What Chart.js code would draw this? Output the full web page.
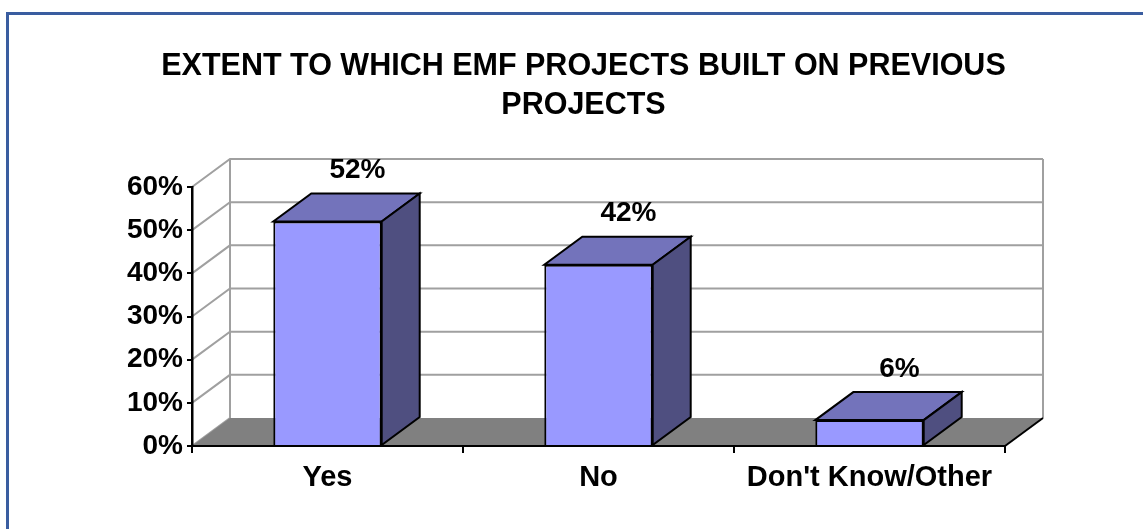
<!DOCTYPE html>
<html>
<head>
<meta charset="utf-8">
<script src="https://cdn.jsdelivr.net/npm/chart.js@4"></script>
<style>
    body { margin: 0; background: #fff; overflow: hidden; }
    #frame {
        position: absolute; left: 6px; top: 12px;
        width: 1200px; height: 600px;
        border: 3px solid #3A5DA0;
    }
    #wrap { position: absolute; left: 0; top: 0; width: 1143px; height: 529px; }
</style>
</head>
<body>
<div id="frame"></div>
<div id="wrap"><canvas id="chart" width="1143" height="529"></canvas></div>
<script>
const titleLines = ['EXTENT TO WHICH EMF PROJECTS BUILT ON PREVIOUS', 'PROJECTS'];
const categories = ['Yes', 'No', "Don't Know/Other"];
const shares = [0.52, 0.42, 0.06];
const yTicks = [0, 0.1, 0.2, 0.3, 0.4, 0.5, 0.6];

// depth of the 3D box (back wall offset)
const DEPTH_X = 38;
const DEPTH_Y = -28;

Chart.defaults.font.family = '"Liberation Sans", Arial, sans-serif';
Chart.defaults.color = '#000';

function pct(v) {
    return Math.round(v * 100) + '%';
}

function poly(ctx, pts, fill, stroke, lw) {
    ctx.beginPath();
    ctx.moveTo(pts[0][0], pts[0][1]);
    for (let i = 1; i < pts.length; i++) ctx.lineTo(pts[i][0], pts[i][1]);
    ctx.closePath();
    if (fill) { ctx.fillStyle = fill; ctx.fill(); }
    if (stroke) { ctx.strokeStyle = stroke; ctx.lineWidth = lw; ctx.lineJoin = 'miter'; ctx.stroke(); }
}

const box3d = {
    id: 'box3d',
    beforeDraw(chart) {
        const ctx = chart.ctx;
        const area = chart.chartArea;
        const y = chart.scales.y;
        const y0 = y.getPixelForValue(0);
        const yTop = y.getPixelForValue(yTicks[yTicks.length - 1]);
        ctx.save();
        ctx.lineCap = 'butt';

        // back wall and side wall grid
        ctx.strokeStyle = '#a0a0a0';
        ctx.lineWidth = 2;
        yTicks.forEach(t => {
            const py = y.getPixelForValue(t);
            ctx.beginPath();
            ctx.moveTo(area.left, py);
            ctx.lineTo(area.left + DEPTH_X, py + DEPTH_Y);
            if (t > 0) ctx.lineTo(area.right + DEPTH_X, py + DEPTH_Y);
            ctx.stroke();
        });
        ctx.beginPath();
        ctx.moveTo(area.left + DEPTH_X, yTop + DEPTH_Y);
        ctx.lineTo(area.left + DEPTH_X, y0 + DEPTH_Y);
        ctx.moveTo(area.right + DEPTH_X, yTop + DEPTH_Y);
        ctx.lineTo(area.right + DEPTH_X, y0 + DEPTH_Y);
        ctx.stroke();

        // floor
        poly(ctx, [
            [area.left, y0], [area.right, y0],
            [area.right + DEPTH_X, y0 + DEPTH_Y], [area.left + DEPTH_X, y0 + DEPTH_Y]
        ], '#808080', null, 0);
        ctx.strokeStyle = '#000';
        ctx.lineWidth = 2;
        ctx.beginPath();
        ctx.moveTo(area.right, y0);
        ctx.lineTo(area.right + DEPTH_X, y0 + DEPTH_Y);
        ctx.stroke();
        ctx.restore();
    },
    afterDatasetsDraw(chart) {
        const ctx = chart.ctx;
        const meta = chart.getDatasetMeta(0);
        ctx.save();
        meta.data.forEach((bar, i) => {
            const x1 = bar.x - bar.width / 2;
            const x2 = bar.x + bar.width / 2;
            const yt = bar.y;
            const yb = bar.base;
            // top face
            poly(ctx, [[x1, yt], [x2, yt], [x2 + DEPTH_X, yt + DEPTH_Y], [x1 + DEPTH_X, yt + DEPTH_Y]],
                '#7373BB', '#000', 2);
            // side face
            poly(ctx, [[x2, yt], [x2, yb], [x2 + DEPTH_X, yb + DEPTH_Y], [x2 + DEPTH_X, yt + DEPTH_Y]],
                '#4F4F80', '#000', 2);
            // value label
            ctx.fillStyle = '#000';
            ctx.font = 'bold 28px "Liberation Sans", Arial, sans-serif';
            ctx.textAlign = 'center';
            ctx.textBaseline = 'middle';
            ctx.fillText(pct(shares[i]), bar.x + 30, yt + DEPTH_Y - 23);
        });
        ctx.restore();
    }
};

new Chart(document.getElementById('chart'), {
    type: 'bar',
    data: {
        labels: categories,
        datasets: [{
            data: shares,
            backgroundColor: '#9999FF',
            borderColor: '#000',
            borderWidth: 2,
            barPercentage: 0.4,
            categoryPercentage: 1
        }]
    },
    options: {
        responsive: false,
        devicePixelRatio: 1,
        animation: false,
        layout: { padding: { left: 24, right: 0, top: 0, bottom: 0 } },
        plugins: {
            legend: { display: false },
            tooltip: { enabled: false },
            title: {
                display: true,
                text: titleLines,
                color: '#000',
                font: { size: 30.5, weight: 'bold', lineHeight: 1.25 },
                padding: { top: 48, bottom: 62.75 }
            }
        },
        scales: {
            x: {
                offset: true,
                grid: { display: true, drawOnChartArea: false, offset: true, tickLength: 7, color: '#000', lineWidth: 2 },
                border: { display: true, color: '#000', width: 2 },
                ticks: { font: { size: 29, weight: 'bold' }, padding: 8 },
                afterFit(scale) { scale.height = 83; }
            },
            y: {
                min: 0,
                max: 0.6,
                grid: { display: true, drawOnChartArea: false, tickLength: 5, color: '#000', lineWidth: 2 },
                border: { display: true, color: '#000', width: 2.5 },
                ticks: {
                    stepSize: 0.1,
                    padding: 4,
                    font: { size: 28, weight: 'bold' },
                    callback: v => pct(v)
                },
                afterFit(scale) { scale.width = 168; }
            },
            // empty axis that keeps the right margin, so the title stays centred like the original
            spacer: {
                type: 'linear',
                position: 'right',
                display: true,
                grid: { display: false },
                border: { display: false },
                ticks: { display: false },
                afterFit(scale) { scale.width = 138; }
            }
        }
    },
    plugins: [box3d]
});
</script>
</body>
</html>
